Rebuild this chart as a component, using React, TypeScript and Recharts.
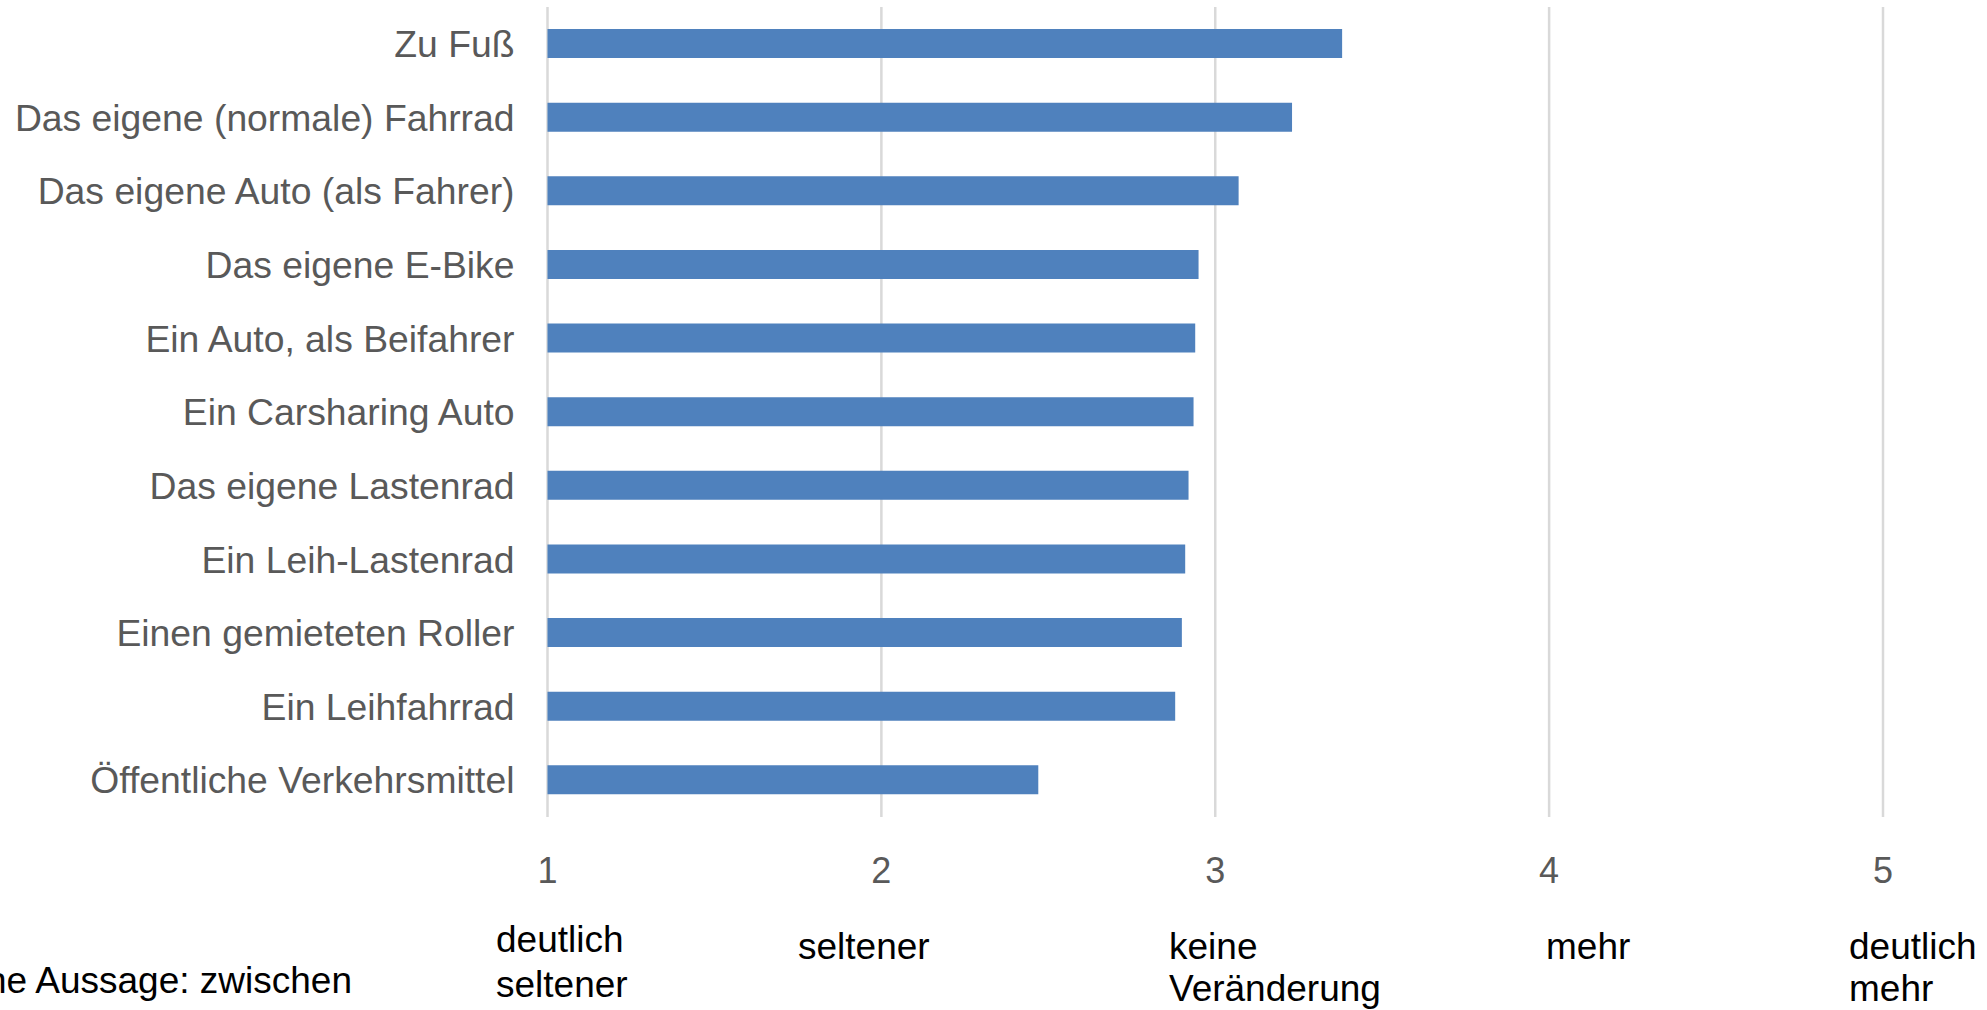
import { BarChart, Bar, XAxis, YAxis, CartesianGrid } from "recharts";

const MODES = [
  "Zu Fuß",
  "Das eigene (normale) Fahrrad",
  "Das eigene Auto (als Fahrer)",
  "Das eigene E-Bike",
  "Ein Auto, als Beifahrer",
  "Ein Carsharing Auto",
  "Das eigene Lastenrad",
  "Ein Leih-Lastenrad",
  "Einen gemieteten Roller",
  "Ein Leihfahrrad",
  "Öffentliche Verkehrsmittel",
];

const SCORES = [3.38, 3.23, 3.07, 2.95, 2.94, 2.935, 2.92, 2.91, 2.9, 2.88, 2.47];

const SCALE_TICKS = [1, 2, 3, 4, 5];

const SCALE_LABELS = [
  ["deutlich", "seltener"],
  ["seltener"],
  ["keine", "Veränderung"],
  ["mehr"],
  ["deutlich", "mehr"],
];

const NOTE = "ne Aussage: zwischen";

const data = MODES.map((name, i) => ({ name, score: SCORES[i] }));

const W = 1987;
const H = 1010;
const FONT = "'Liberation Sans', Arial, sans-serif";

// caption placement under the axis: left edge, first baseline, line step
const labelX = [496, 798, 1169, 1546, 1849];
const labelY = [952, 959, 959, 959, 959];
const labelStep = [45, 42, 42, 42, 42];

export default function App() {
  return (
    <div style={{ position: "absolute", left: 0, top: 0, width: W, height: H, background: "#fff" }}>
      <BarChart
        width={W}
        height={H}
        data={data}
        layout="vertical"
        margin={{ top: 7, right: 104, bottom: 113, left: 0 }}
      >
        <CartesianGrid horizontal={false} stroke="#D9D9D9" strokeWidth={2.5} />
        <XAxis
          type="number"
          domain={[1, 5]}
          ticks={SCALE_TICKS}
          axisLine={false}
          tickLine={false}
          tickSize={0}
          tickMargin={40}
          height={80}
          tick={{ fontSize: 36, fill: "#595959", fontFamily: FONT }}
        />
        <YAxis
          type="category"
          dataKey="name"
          width={547.5}
          axisLine={false}
          tickLine={false}
          tickSize={0}
          tickMargin={33}
          interval={0}
          tick={{ fontSize: 37.3, fill: "#595959", fontFamily: FONT }}
        />
        <Bar dataKey="score" fill="#4F81BD" barSize={29} isAnimationActive={false} />
      </BarChart>
      <svg
        width={W}
        height={H}
        style={{ position: "absolute", left: 0, top: 0, pointerEvents: "none" }}
        fontFamily={FONT}
        fontSize={37}
        fill="#000"
      >
        {SCALE_LABELS.map((lines, i) => (
          <text key={i} x={labelX[i]} y={labelY[i]}>
            {lines.map((line, j) => (
              <tspan key={j} x={labelX[i]} dy={j === 0 ? 0 : labelStep[i]}>
                {line}
              </tspan>
            ))}
          </text>
        ))}
        <text x={352} y={993} textAnchor="end">
          {NOTE}
        </text>
      </svg>
    </div>
  );
}
